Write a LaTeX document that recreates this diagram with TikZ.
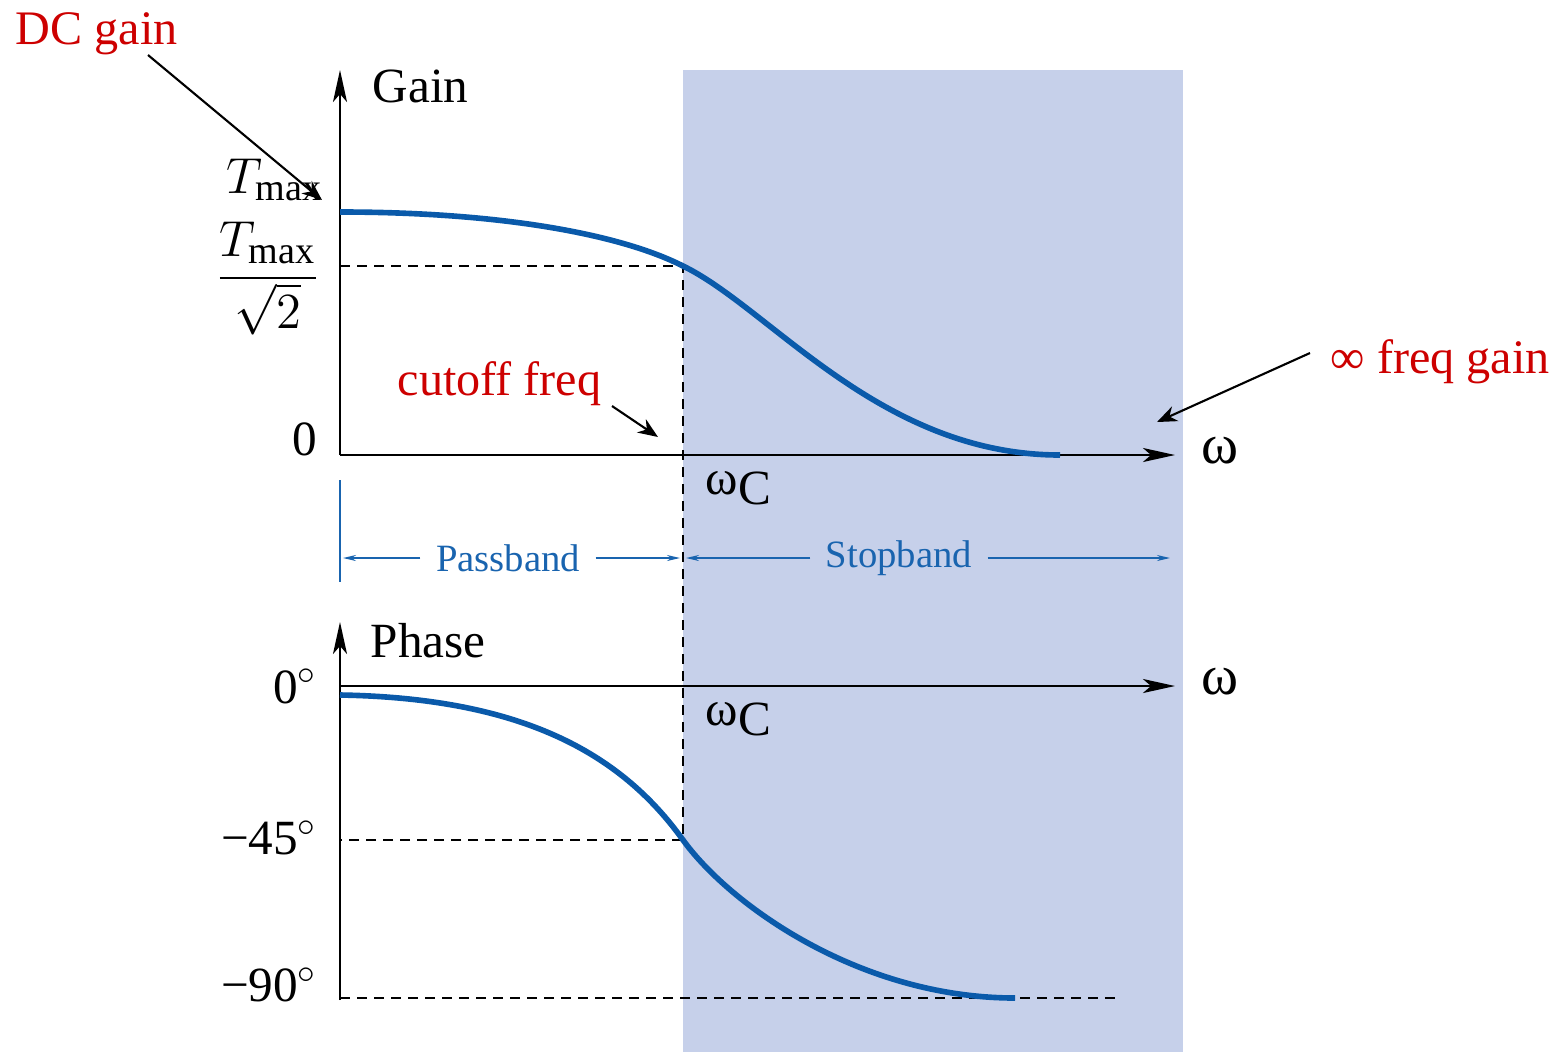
\documentclass[tikz,border=0pt]{standalone}
\usepackage{fontspec}
\setmainfont{Liberation Serif}
\usetikzlibrary{arrows.meta}
\definecolor{bandfill}{RGB}{198,208,234}
\definecolor{curveblue}{RGB}{10,90,170}
\definecolor{bandblue}{RGB}{25,100,175}
\definecolor{notered}{RGB}{205,0,0}
\begin{document}
\begin{tikzpicture}[x=0.1mm,y=-0.1mm,
  axis/.style={line width=0.7pt,-{Stealth[length=3.2mm,width=1.4mm,inset=0.8mm]}},
  curve/.style={curveblue,line width=1.6pt},
  guide/.style={line width=0.75pt,dash pattern=on 1mm off 0.7mm},
  pointer/.style={line width=0.6pt,-{Stealth[length=2mm,width=1.6mm]}},
  band arrow/.style={bandblue,line width=0.5pt,-{Stealth[length=1.3mm,width=0.6mm]}},
  label/.style={font=\fontsize{14}{16}\selectfont,inner sep=0pt},
  note/.style={notered,font=\fontsize{13.7}{16}\selectfont,inner sep=0pt},
  band/.style={bandblue,font=\fontsize{11}{13}\selectfont,inner sep=0pt}]
  \useasboundingbox (0,0) rectangle (1560,1052);
  \fill[bandfill] (683,70) rectangle (1183,1052);

  \coordinate (g0) at (340,455);
  \coordinate (gtop) at (340,70);
  \coordinate (gend) at (1175,455);
  \coordinate (p0) at (340,686);
  \coordinate (pbot) at (340,1000);
  \coordinate (ptop) at (340,622);
  \coordinate (pend) at (1175,686);
  \coordinate (half) at (683,266);
  \coordinate (halfy) at (340,266);
  \coordinate (mid) at (683,840);
  \coordinate (midy) at (340,840);
  \coordinate (low) at (340,998);
  \coordinate (lowend) at (1115,998);

  \draw[guide] (halfy) -- (half) -- (mid) -- (midy);
  \draw[guide] (low) -- (lowend);
  \draw[axis] (g0) -- (gtop);
  \draw[axis] (g0) -- (gend);
  \draw[axis] (pbot) -- (ptop);
  \draw[axis] (p0) -- (pend);

  \draw[curve] (340,212) .. controls (500,212) and (620,234) .. (half)
    .. controls (770,308) and (880,455) .. (1060,455);
  \draw[curve] (340,695) .. controls (520,698) and (620,752) .. (mid)
    .. controls (730,905) and (860,998) .. (1015,998);

  \node[label,anchor=base west] (gain) at (372,102) {Gain};
  \node[label,anchor=base west,font=\fontsize{15.5}{17}\selectfont] (tmax) at (226,193) {$T_{\mathrm{max}}$};
  \node[label,anchor=north,font=\fontsize{15.5}{17}\selectfont] (tfrac) at (268,221) {$\displaystyle\frac{T_{\mathrm{max}}}{\sqrt{2}}$};
  \node[label,anchor=base east] (zero) at (318,455) {0};
  \node[label,anchor=base,font=\fontsize{16}{18}\selectfont] (wg) at (1220,463) {ω};
  \node[label,anchor=base west] (wcg) at (705,494) {ω\raisebox{-1mm}{C}};

  \node[label,anchor=base west] (phase) at (370,657) {Phase};
  \node[label,anchor=base east] (deg0) at (318,703) {0$^\circ$};
  \node[label,anchor=base,font=\fontsize{16}{18}\selectfont] (wp) at (1220,694) {ω};
  \node[label,anchor=base west] (wcp) at (705,725) {ω\raisebox{-1mm}{C}};
  \node[label,anchor=east] (deg45) at (318,838) {−45$^\circ$};
  \node[label,anchor=east] (deg90) at (318,985) {−90$^\circ$};

  \draw[bandblue,line width=0.7pt] (340,480) -- (340,582);
  \node[band] (pass) at (508,558) {Passband};
  \node[band] (stop) at (899,558) {Stopband};
  \coordinate (passL) at (343,558);
  \coordinate (passR) at (680,558);
  \coordinate (stopL) at (686,558);
  \coordinate (stopR) at (1170,558);
  \draw[band arrow] ([xshift=-1.5mm]pass.west) -- (passL);
  \draw[band arrow] ([xshift=1.5mm]pass.east) -- (passR);
  \draw[band arrow] ([xshift=-1.5mm]stop.west) -- (stopL);
  \draw[band arrow] ([xshift=1.5mm]stop.east) -- (stopR);

  \node[note,anchor=base west] (dc) at (15,44) {DC gain};
  \node[note,anchor=base west] (cut) at (397,395) {cutoff freq};
  \node[note,anchor=base west] (inf) at (1330,373) {∞ freq gain};
  \coordinate (dcfrom) at (148,55);
  \coordinate (dcto) at (322,200);
  \coordinate (cutfrom) at (612,406);
  \coordinate (cutto) at (658,437);
  \coordinate (inffrom) at (1310,353);
  \coordinate (infto) at (1157,422);
  \draw[pointer] (dcfrom) -- (dcto);
  \draw[pointer] (cutfrom) -- (cutto);
  \draw[pointer] (inffrom) -- (infto);
\end{tikzpicture}
\end{document}
